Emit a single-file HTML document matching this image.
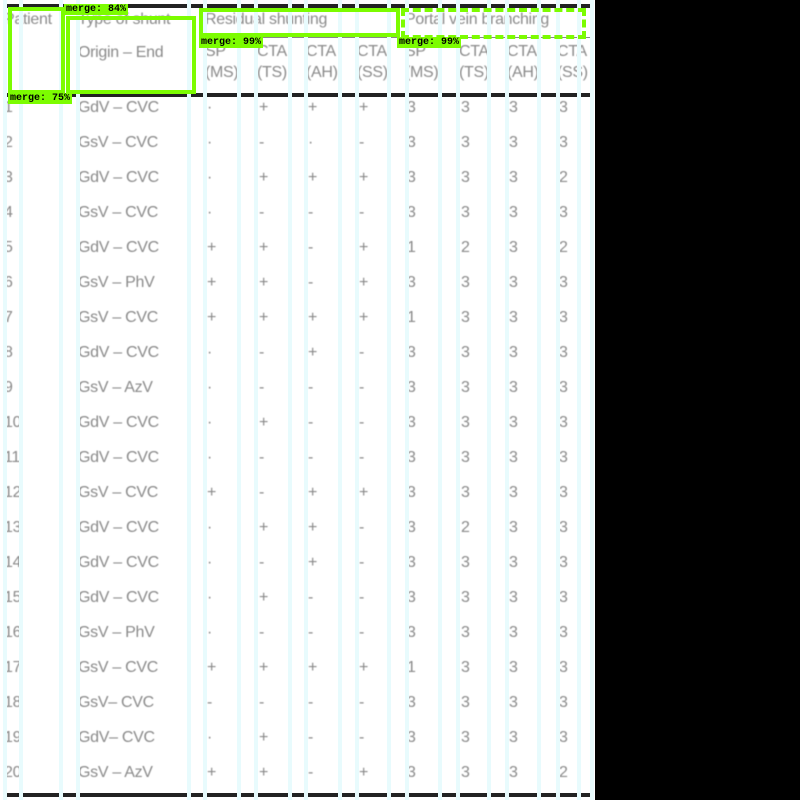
<!DOCTYPE html>
<html><head><meta charset="utf-8"><style>
body{margin:0;width:800px;height:800px;background:#000;overflow:hidden;font-family:"Liberation Sans",sans-serif}
#page{position:absolute;left:0;top:0;width:595px;height:800px;background:#fff}
.t{position:absolute;color:#8a8a8a;font-size:16px;white-space:nowrap;filter:blur(0.6px);line-height:18px;letter-spacing:-0.3px}
.rule{position:absolute;height:4px;background:#222}
.vl{position:absolute;top:0;width:4px;height:800px;background:#e8fbfd}
.box{position:absolute;border:4px solid #7cfc00;box-sizing:border-box}
.lab{position:absolute;background:#7cfc00;color:#000;font:bold 10px "Liberation Mono",monospace;line-height:11px;padding:0 2px}
</style></head><body>
<div id="page"></div>
<script>
const patients=["1","2","3","4","5","6","7","8","9","10","11","12","13","14","15","16","17","18","19","20"];
const shunts=["GdV – CVC","GsV – CVC","GdV – CVC","GsV – CVC","GdV – CVC","GsV – PhV","GsV – CVC","GdV – CVC","GsV – AzV","GdV – CVC","GdV – CVC","GsV – CVC","GdV – CVC","GdV – CVC","GdV – CVC","GsV – PhV","GsV – CVC","GsV– CVC","GdV– CVC","GsV – AzV"];
const spMS=["·","·","·","·","+","+","+","·","·","·","·","+","·","·","·","·","+","-","·","+"];
const ctaTS=["+","-","+","-","+","+","+","-","-","+","-","-","+","-","+","-","+","-","+","+"];
const ctaAH=["+","·","+","-","-","-","+","+","-","-","-","+","+","+","-","-","+","-","-","-"];
const ctaSS=["+","-","+","-","+","+","+","-","-","-","-","+","-","-","-","-","+","-","-","+"];
const pvSP=["3","3","3","3","1","3","1","3","3","3","3","3","3","3","3","3","1","3","3","3"];
const pvTS=["3","3","3","3","2","3","3","3","3","3","3","3","2","3","3","3","3","3","3","3"];
const pvAH=["3","3","3","3","3","3","3","3","3","3","3","3","3","3","3","3","3","3","3","3"];
const pvSS=["3","3","2","3","2","3","3","3","3","3","3","3","3","3","3","3","3","3","3","2"];
const page=document.getElementById('page');
function add(cls,x,y,txt,name,extra){
  const d=document.createElement('div');d.className=cls;d.style.left=x+'px';d.style.top=y+'px';
  if(txt!==undefined)d.textContent=txt;
  if(extra)Object.assign(d.style,extra);
  
  
  page.appendChild(d);return d;
}
add('rule',4,4,undefined,'top-rule',{width:588+'px'});
add('rule',4,93,undefined,'header-rule',{width:588+'px'});
add('rule',4,793,undefined,'bottom-rule',{width:588+'px'});
add('rule',200,37,undefined,'span-rule',{width:390+'px',height:'1px',background:'#888'});
add('t',4,11,'Patient','header-patient');
add('t',78,11,'Type of shunt','header-type-of-shunt');
add('t',78,44,'Origin – End','header-origin-end');
add('t',205,11,'Residual shunting','header-residual-shunting');
add('t',405,11,'Portal vein branching','header-portal-vein-branching');
const subX=[205,257,306,357,405,459,507,557];
const subA=["SP","CTA","CTA","CTA","SP","CTA","CTA","CTA"];
const subB=["(MS)","(TS)","(AH)","(SS)","(MS)","(TS)","(AH)","(SS)"];
subX.forEach((x,i)=>{add('t',x,43,subA[i],'subheader-'+i+'-a');add('t',x,64,subB[i],'subheader-'+i+'-b');});
const cols=[spMS,ctaTS,ctaAH,ctaSS,pvSP,pvTS,pvAH,pvSS];
patients.forEach((p,r)=>{
  const y=99+r*35;
  add('t',4,y,p,'patient-'+p);
  add('t',78,y,shunts[r],'shunt-'+p);
  cols.forEach((c,j)=>add('t',subX[j]+2,y,c[r],'cell-'+p+'-'+j));
});
const vx=[3,19,59,76,187,203,237,254,288,304,338,355,387,405,438,456,487,505,537,556,577,590];
vx.forEach((x,i)=>add('vl',x,0,undefined,'grid-line-'+i));
add('box',8,7,undefined,'merge-box-patient',{width:'57px',height:'87px'});
add('lab',8,93,'merge: 75%','merge-label-75');
add('box',66,16,undefined,'merge-box-type',{width:'130px',height:'78px'});
add('lab',64,4,'merge: 84%','merge-label-84');
add('box',199,8,undefined,'merge-box-residual',{width:'201px',height:'29px'});
add('lab',199,37,'merge: 99%','merge-label-99a');
add('box',401,8,undefined,'merge-box-portal',{width:'185px',height:'31px',borderStyle:'dashed'});
add('lab',397,37,'merge: 99%','merge-label-99b');
</script>
</body></html>
